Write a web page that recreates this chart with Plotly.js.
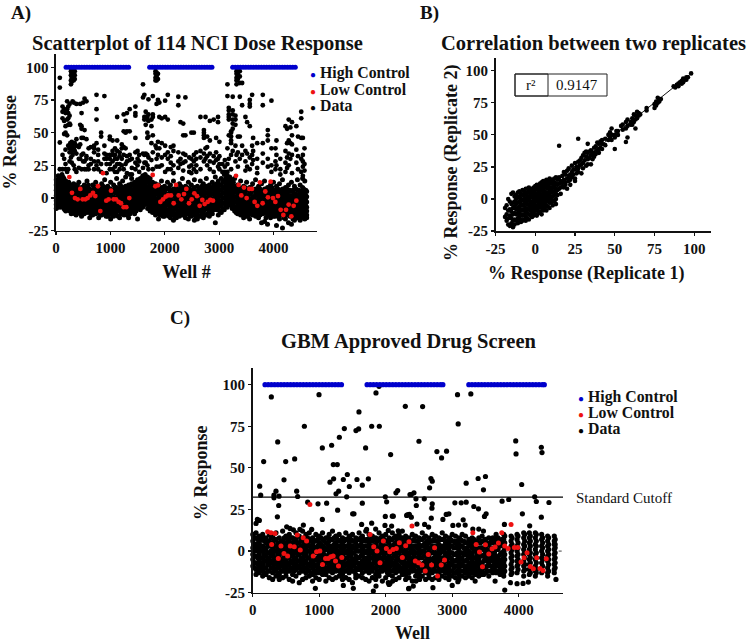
<!DOCTYPE html>
<html><head><meta charset="utf-8">
<script src="https://cdn.plot.ly/plotly-3.0.1.min.js"></script>
<style>html,body{margin:0;padding:0;background:#fff}#chart{width:752px;height:644px}</style>
</head><body><div id="chart"></div>
<script>
// Rows are [x, y1, y2, ...].
const highAWells=[185,233,281,329,377,425,473,521,569,617,665,713,761,809,857,905,953,1001,1049,1097,1145,1193,1241,1289,1336,1722,1770,1818,1866,1914,1962,2010,2058,2106,2154,2202,2250,2298,2346,2394,2442,2490,2538,2586,2634,2682,2730,2778,2826,2868,3249,3297,3345,3393,3441,3489,3537,3585,3633,3681,3729,3777,3825,3873,3921,3969,4017,4065,4113,4161,4209,4257,4305,4353,4401];
const highAValues=[100,100,100,100,100,100,100,100,100,100,100,100,100,100,100,100,100,100,100,100,100,100,100,100,100,100,100,100,100,100,100,100,100,100,100,100,100,100,100,100,100,100,100,100,100,100,100,100,100,100,100,100,100,100,100,100,100,100,100,100,100,100,100,100,100,100,100,100,100,100,100,100,100,100,100];
const lowA=[[245,16],[294,4],[349,0],[398,-1],[447,7],[490,-1],[539,-1],[582,0],[631,2],[680,4],[723,1.5],[772,9],[815,-10],[864,19],[925,-2],[968,-1],[1012,5.6],[1060,-1],[1103,-1],[1152,-3],[1195,-4],[1244,-7],[1293,-7],[1348,0],[1778,17.6],[1827,9],[1876,9.7],[1919,-3],[1968,-1],[2017,1],[2060,2],[2115,2],[2164,-4],[2207,10],[2256,2],[2305,-1],[2354,3],[2397,7],[2446,-4],[2495,-1],[2544,3.6],[2593,1.5],[2642,-6],[2691,-1.5],[2734,-4.6],[2789,-3],[2838,-1.5],[2887,-2],[3310,17],[3359,10],[3408,2],[3457,8],[3506,0],[3555,7],[3604,7],[3653,-3],[3702,-6],[3751,12],[3800,-4],[3849,5],[3898,0.5],[3947,12.5],[3991,0],[4034,-3],[4083,1.5],[4132,-9],[4181,-13],[4230,-9],[4279,-5],[4328,-14],[4371,-6],[4420,-2]];
const sparseA=[[70,92,84.5,42.5,22],[120,70,66,61,33,22],[150,68,59,49,30],[175,65,55,50,37,26,22],[205,74,68,60,48,20],[225,70,65,61,56,40,22],[250,72,63,57,38,35,28],[262,56,42],[275,97,94,90,87,39,31],[290,98,96,92,89,43,36,27],[305,97,93,91,74,40,33],[325,98,95,92,90,73,38,25],[345,97,94,91,42,36,22],[375,72,45,40,34,20],[420,39,30,23],[445,72,56,41,30],[470,65,55,53,46,33,22],[500,73,46,34,28],[525,76,52,28,22],[560,74,45,32,30,22],[600,38,25,22],[640,39,30,26],[700,40,38,35,28,22],[745,79,68,60,42,25],[775,37,33,28,22],[830,50,47,26,20],[890,78,40,34,30],[930,33,30,26,19],[990,47,45,33,30,26,22],[1040,44,36,33,28,22],[1085,38,33,30,24,20],[1125,62,44,36,30,26,20],[1170,35,32,26,22],[1210,41,38,30,25],[1245,64,51,39,33,22],[1280,59,50,38,26],[1305,65,51,32,28,19],[1355,68,51,33,29,18],[1395,30,23,18],[1460,70,65,63,46,35,27,22],[1500,36,30,25],[1530,33,28,20],
[1600,87,77,34,23],[1625,79,62,60,33,27],[1650,66,62,56,34,27],[1680,62,60,50,46,33,25],[1700,75.5,64,59,47,31,22],[1755,60,55,42,29],[1781,78,64,62,48,35,22],[1830,97,95,92,90,40],[1850,96,93,90,72,38,30,24],[1875,95,91,75,43,33],[1900,73,62,38,24],[1945,61,42,31,25],[2007,74.5,62,40,33,20],[2056,79,60,35,30,22],[2110,39,32,27,22],[2160,40,36,25,19],[2250,77.5,71,35,28,23],[2290,58,30,26],[2340,57,48,34,27,21],[2380,77,48,33,28],[2450,24,31,20],[2490,50,30,25,19],[2535,50,33,28,22],[2580,35,30,25,20],[2657,62,36,31,22],[2720,52,50,48,46,34,28],[2750,62,38,30],[2780,47,39,32,25],[2830,59,44,34,28,22],[2900,60,32,27,20],[2945,46,35,29],[2980,62,58,30,24],[3005,43,32,26,22],[3060,26,20],[3105,20,24,29],
[3153,87,78,38,26,20],[3178,69,67,64,62,60,48,30],[3220,51,50,47,44,42,33,22],[3250,77.5,67,64,60,57,53,36],[3300,63,60,56,40,28],[3320,97,95,92,90,87,33],[3345,96,94,91,47,35,24],[3380,97,93,88,77.5,47,30],[3423,88,71,40,33],[3484,62,36,28,21],[3515,58,34,24],[3564,75,72,70,55,31,22],[3607,79,40,33,26],[3625,46,36,29],[3700,42,30,23,19],[3803,79,71,42,34,27],[3895,52,48,44,30,24],[3962,74.5,38,25,20],[4036,38,28,22],[4054,44,33,25],[4125,30,22,18],[4220,55,36,27,20],[4250,53,42,31,23],[4280,60,44,34,25],[4310,54,42,30],[4340,58,48,41,33,19],[4420,55,37,27],[4450,47,32,22],[4510,66,61,46,30,20],[4540,46,33,28,24,17],[4570,38,26,21]];
const bandA=[[5,14,10,6,2,-2,-5,-8],[40,17,13,9,5,1,-3,-6],[75,16,11,7,3,-1,-4,-7],[110,18,14,10,6,2,-2,-6],[145,15,11,8,4,0,-4,-8],[180,13,9,5,1,-3,-7,-10],[235,12,9,5,2,-2,-5,-9],[280,10,6,3,-1,-5,-8,-12],[325,11,8,4,0,-3,-7,-10],[370,9,5,2,-2,-6,-9,-13],[420,12,7,3,-1,-4,-8,-11],[470,8,5,1,-3,-7,-10,-14],[520,10,6,3,-2,-5,-9,-12],[570,13,8,4,0,-4,-7,-11],[620,7,3,0,-4,-8,-11,-15],[675,10,6,2,-1,-5,-9,-13],[730,12,7,4,-1,-4,-8,-12],[785,9,5,1,-3,-7,-11,-15],[840,11,6,2,-2,-6,-10,-13],[895,14,8,4,0,-4,-8,-12],[950,9,6,2,-2,-6,-10,-14],[1005,12,7,3,-1,-5,-9,-16],[1060,10,6,1,-3,-7,-11,-14],[1115,15,8,4,0,-4,-8,-13],[1170,11,7,2,-2,-6,-10,-15],[1225,13,8,4,-1,-5,-8,-12],[1280,16,9,5,1,-3,-7,-11],[1335,10,6,2,-2,-6,-10,-15],[1390,15,11,6,2,-2,-6,-10],[1445,12,8,4,0,-4,-8,-12],[1500,14,10,6,2,-2,-6,-16],[1550,15,11,7,3,-1,-5,-9],[1595,17,13,9,5,1,-3,-7],[1640,18,14,10,6,2,-2,-5],[1685,16,12,8,4,0,-4,-8],[1730,15,11,7,3,-1,-5,-10],[1775,12,8,4,0,-4,-8,-11],[1830,11,7,3,-1,-5,-9,-13],[1885,10,5,1,-3,-7,-11,-16],[1940,13,8,4,-1,-5,-9,-13],[1995,9,5,1,-3,-7,-10,-14],[2050,12,7,3,-1,-5,-9,-13],[2105,10,5,0,-4,-8,-12,-15],[2160,13,7,3,-2,-6,-10,-17],[2215,8,4,0,-4,-8,-12,-15],[2270,11,6,2,-2,-6,-10,-14],[2325,15,7,3,-1,-5,-9,-13],[2380,9,5,1,-3,-7,-11,-15],[2435,12,6,2,-2,-6,-10,-16],[2490,10,5,1,-3,-7,-11,-14],[2545,14,8,3,-1,-5,-9,-17],[2600,9,5,0,-4,-8,-12,-16],[2655,13,7,3,-2,-6,-10,-14],[2710,11,6,2,-3,-7,-11,-15],[2765,15,9,4,0,-4,-8,-13],[2820,10,6,2,-2,-6,-10,-14],[2875,12,7,3,-1,-5,-9,-12],[2930,16,9,5,1,-3,-7,-19],[2985,13,8,4,0,-4,-8,-13],[3040,15,10,6,2,-2,-6,-11],[3095,18,13,8,4,0,-4,-9],[3150,17,13,9,5,1,-3,-7],[3195,16,13,10,6,2,-1,-5],[3240,14,10,6,2,-2,-6,-8],[3285,15,9,5,1,-3,-7,-10],[3340,10,7,3,-1,-5,-9,-12],[3395,13,6,2,-2,-6,-10,-13],[3450,9,5,1,-3,-7,-11,-15],[3505,12,6,2,-2,-6,-10,-14],[3560,8,3,-1,-5,-9,-12,-16],[3615,11,6,1,-3,-7,-11,-13],[3670,14,7,3,-2,-6,-10,-14],[3725,9,4,0,-4,-8,-12,-15],[3780,11,5,1,-3,-7,-11,-19],[3835,13,7,2,-2,-6,-10,-18],[3890,8,3,-1,-5,-9,-13,-20],[3945,10,5,1,-3,-7,-11,-15],[4000,12,6,2,-2,-6,-10,-14],[4055,9,4,-1,-5,-9,-12,-21],[4110,11,5,0,-4,-8,-12,-16],[4165,14,7,2,-3,-7,-11,-23],[4220,8,3,-1,-5,-9,-13,-16],[4275,10,5,1,-3,-7,-11,-19],[4330,12,5,0,-4,-8,-12,-20],[4385,9,3,-2,-6,-10,-14,-17],[4440,14,6,1,-3,-7,-11,-15],[4490,10,4,-1,-5,-9,-13,-17],[4535,15,8,3,-2,-6,-10,-14],[4575,13,6,1,-4,-8,-12,-16],[4610,5,1,-3,-7,-10,-13,-15]];
const bandA2=[[22,12,8,4,0,-3,-7],[58,15,11,5,1,-2,-5],[92,13,9,5,1,-3,-6],[128,16,12,8,2,-2,-5],[162,13,7,3,-1,-6,-9],[208,11,7,3,-1,-5,-8],[258,8,4,0,-3,-7,-10],[302,9,6,2,-2,-6,-9],[348,7,3,-1,-5,-8,-12],[395,10,7,0,-4,-7,-11],[445,6,3,-1,-5,-9,-12],[495,8,3,-1,-5,-8,-11],[545,8,4,1,-3,-7,-10],[595,10,6,2,-2,-6,-9],[648,5,1,-2,-6,-9,-13],[702,8,4,0,-3,-7,-11],[758,9,5,2,-3,-6,-10],[812,7,3,-1,-5,-9,-13],[868,9,4,0,-4,-8,-11],[922,6,2,-2,-6,-10,-14],[978,7,4,0,-4,-8,-12],[1032,5,1,-3,-7,-11,-13],[1088,8,4,-1,-5,-9,-12],[1142,6,2,-2,-6,-10,-14],[1198,9,5,0,-4,-8,-12],[1252,6,2,-3,-7,-10,-13],[1308,7,3,-1,-5,-9,-13],[1362,8,4,0,-4,-8,-12],[1418,10,6,2,-2,-6,-9],[1472,10,6,2,-2,-6,-10],[1525,12,8,4,0,-4,-8],[1572,13,9,5,1,-3,-7],[1618,15,11,7,3,-1,-4],[1662,16,12,8,4,0,-4],[1708,13,9,5,1,-2,-6],[1752,10,6,2,-2,-6,-9],[1802,9,5,1,-3,-7,-10],[1858,8,4,-1,-5,-9,-12],[1912,7,3,-1,-5,-9,-13],[1968,6,2,-3,-7,-11,-14],[2022,7,3,-1,-5,-9,-12],[2078,8,2,-2,-6,-10,-14],[2132,6,2,-2,-6,-10,-13],[2188,5,1,-4,-8,-12,-14],[2242,6,2,-2,-6,-10,-13],[2298,9,5,1,-3,-7,-11],[2352,7,3,-1,-5,-9,-13],[2408,8,4,0,-4,-8,-12],[2462,7,3,-1,-5,-9,-13],[2518,6,2,-2,-6,-10,-13],[2572,5,1,-3,-7,-11,-14],[2628,7,3,-2,-6,-10,-14],[2682,9,4,0,-4,-8,-12],[2738,7,3,-1,-5,-9,-13],[2792,8,4,0,-4,-8,-12],[2848,8,4,0,-3,-7,-11],[2902,10,7,3,-1,-5,-9],[2958,11,7,3,-1,-5,-9],[3012,10,6,2,-2,-6,-10],[3068,12,8,4,0,-4,-8],[3122,15,11,7,3,-1,-6],[3172,15,11,7,3,-1,-5],[3218,14,11,8,4,0,-3],[3262,12,8,4,0,-4,-7],[3312,8,5,1,-3,-7,-11],[3368,8,4,0,-4,-8,-11],[3422,7,3,-1,-5,-9,-12],[3478,8,4,-1,-5,-9,-13],[3532,6,1,-3,-7,-11,-14],[3588,8,4,-1,-5,-9,-12],[3642,6,1,-1,-5,-8,-12],[3698,6,2,-2,-6,-10,-13],[3752,7,3,-1,-5,-9,-13],[3808,5,3,-1,-5,-9,-12],[3862,6,1,-3,-7,-11,-15],[3918,7,3,-1,-5,-9,-13],[3972,8,4,0,-4,-8,-12],[4028,6,2,-3,-7,-11,-14],[4082,7,2,-2,-6,-10,-14],[4138,6,3,-1,-5,-9,-13],[4192,5,1,-3,-7,-11,-15],[4248,7,3,-1,-5,-9,-13],[4302,6,2,-2,-6,-10,-14],[4358,6,1,-4,-8,-12,-16],[4412,7,3,-1,-5,-9,-13],[4465,6,2,-3,-7,-11,-15],[4512,5,1,-4,-8,-12,-15],[4555,7,3,-1,-5,-9,-13],[4595,6,2,-2,-6,-11,-14]];
const scatterB=[[-19,-7,-14],[-18,-5,-12,-17],[-17,0,-9,-15,-20],[-16,-2,-8,-13,-21],[-15,4,-4,-10,-15,-19],[-14,5,-3,-7,-12,-17,-22],[-13,2,-2,-6,-11,-16,-20],[-12,3,0,-4,-8,-12,-17],[-11,5,1,-3,-7,-11,-15,-19],[-10,6,2,-2,-6,-10,-14,-18],[-9,4,0,-4,-8,-12,-16,-18],[-8,7,3,-1,-5,-9,-13,-17],[-7,6,3,0,-4,-8,-12,-16],[-6,8,4,0,-3,-7,-10,-14,-17],[-5,8,5,2,-1,-4,-8,-11,-15],[-4,9,6,2,-1,-5,-8,-12,-16],[-3,7,4,1,-3,-6,-9,-13],[-2,8,5,2,-2,-5,-8,-11,-14],[-1,9,6,3,0,-3,-6,-10,-13],[0,10,7,4,1,-2,-5,-8,-12],[1,11,8,4,1,-2,-6,-9,-13],[2,10,7,5,2,-1,-4,-7,-11],[3,12,9,6,3,0,-3,-6,-10],[4,13,10,7,3,0,-4,-7,-12],[5,14,11,8,4,1,-2,-5,-9],[6,13,10,6,3,0,-3,-7],[7,15,12,9,5,2,-1,-5,-9],[8,14,11,8,4,1,-2,-6],[9,16,13,9,6,3,0,-3,-7],[10,15,12,8,5,1,-3],[11,15,12,9,6,2,-1,-5],[12,16,13,10,6,3,-2],[13,17,12,8,4,0,-4],[14,15,11,7,3],[15,41.5,17,12,8],[16,14,9,4],[17,18,13,10],[18,21,15,9],[19,19,13,11],[20,22,16,8],[21,24,18,14],[22,19,15,11],[23,26,21,17],[24,23,19],[25,28,23,16,14],[26,25,20],[27,47,29,24,21],[28,30,26],[29,32,27,20],[30,34,28,24],[31,36,30],[32,37,33,26],[33,43,36,31,27],[34,37,32],[35,38,34,27],[36,36,31],[37,40,36,33],[38,41,35],[39,44,38],[40,43,39,36],[41,45,40],[42,46,43,39],[44,47,42],[46,50,46],[47,52,48],[48,55,50,46],[50,39,50,48],[51,53],[52,53,50],[54,57],[55,58,54],[57,44.5,60,55],[58,48,62,57],[60,60,58],[61,63,58],[62,66,60],[63,55,65,62],[64,68,63],[65,67,65],[66,66],[70,71,69],[75,74,71],[76,76,73],[77,79,75],[78,78,76],[79,78],[87,88],[88,87],[89,89],[90,90,88],[91,91],[92,92,90],[93,94,91],[94,93],[95,95,93],[96,95],[98,98]];
const fitBx=[-18,97];
const fitBy=[-17,97];
const highCWells=[185,233,281,329,377,425,473,521,569,617,665,713,761,809,857,905,953,1001,1049,1097,1145,1193,1241,1289,1335,1720,1768,1816,1864,1912,1960,2008,2056,2104,2152,2200,2248,2296,2344,2392,2440,2488,2536,2584,2632,2680,2728,2776,2824,2860,3250,3298,3346,3394,3442,3490,3538,3586,3634,3682,3730,3778,3826,3874,3922,3970,4018,4066,4114,4162,4210,4258,4306,4354,4385];
const highCValues=[100,100,100,100,100,100,100,100,100,100,100,100,100,100,100,100,100,100,100,100,100,100,100,100,100,100,100,100,100,100,100,100,100,100,100,100,100,100,100,100,100,100,100,100,100,100,100,100,100,100,100,100,100,100,100,100,100,100,100,100,100,100,100,100,100,100,100,100,100,100,100,100,100,100,100];
const lowC=[[225,11.6],[275,11],[285,4],[335,10.6],[385,-4.4],[425,3],[470,-1.4],[525,-3],[565,3],[625,2.6],[670,9.6],[715,0.6],[760,8],[810,6],[860,28],[910,-3],[960,-0.4],[1010,0],[1050,-8],[1095,-4.4],[1135,-4.4],[1175,-3.4],[1210,-3],[1245,-6],[1290,-9],[1340,-3.8],[1765,10],[1820,2.6],[1870,0],[1915,-7],[1965,6],[2010,1.6],[2060,-0.4],[2110,1],[2160,1.6],[2205,5],[2250,-3.8],[2300,3.2],[2350,5.6],[2395,15],[2445,-6],[2495,-7],[2545,-8.4],[2595,-12],[2640,-2],[2690,-8.4],[2735,2],[2780,-15],[2835,-8.4],[2885,-5.4],[3310,11],[3360,4],[3410,-0.6],[3455,-9.4],[3500,3.8],[3550,-1.8],[3600,1.4],[3645,2.4],[3695,4.8],[3745,11],[3790,3],[3840,1.6],[3885,16],[3935,2.2],[3985,2.2],[4035,-6.6],[4080,-4],[4125,-1],[4175,-9.2],[4220,-10.6],[4270,-4],[4320,-10.4],[4365,-11.6],[4415,-4.6]];
const sparseC=[[280,92.6],[997,94],[1900,99],[1854,95],[2295,87],[1598,83.6],[777,75],[1378,73.6],[1553,72.4],[1593,73.4],[1789,75],[1904,75],[1303,68.4],[376,65.6],[1047,62],[1187,63.6],[1698,62],[2074,58],[165,53.8],[496,53.8],[631,55.4],[1212,52],[1272,52],[471,42.8],[1423,46],[1363,43],[1568,43],[1739,43.4],[1648,39.6],[1453,38.8],[1162,41.4],[1217,43.4],[1293,36],[1253,34.4],[105,39],[120,33.6],[350,36],[320,33.6],[320,32],[396,33],[661,36],[676,32.8],[1413,32.6],[2154,35],[2180,36.4],[1994,32.6],[2014,29.6],[2365,34],[391,27.4],[827,29.4],[982,28.4],[1112,28.8],[1648,28.8],[1277,24.6],[1503,22.4],[1523,22.4],[371,20.6],[1047,19],[1994,20.8],[2099,21],[2114,21],[2315,21.4],[2355,22],[70,19],[100,18.4],[50,16.6],[1638,16],[1789,16.8],[1989,15.4],[2089,15],[1849,13.2],[2039,12.4],[2189,12.2],[1713,13],[762,15.6],[511,14.6],[561,13.6],[612,12.8],[710,13],[887,13],[942,-22.4],[1363,-20.6],[1513,-22.4],[1814,-24],[1854,-21],[2039,-19],[2064,-19.4],[2104,-18],[2350,-22.4],[2555,86.8],[3080,94],[3280,94.4],[3090,76.4],[2500,66],[3955,66.2],[3960,58.4],[4340,62.4],[4350,59.2],[2770,59.8],[2915,60],[2840,56],[2680,43.6],[2700,42],[2660,38],[3210,40.8],[3390,43.6],[3500,44.8],[3470,36.8],[4045,40],[2385,34],[2425,35],[2455,31.4],[2580,31.4],[2700,28.4],[2460,27.4],[2695,25.8],[3040,29],[3135,29],[3210,29.4],[3325,26.8],[3395,25.4],[3750,30],[3850,31],[4240,32.6],[4265,29.8],[4455,29.2],[2325,21.8],[2350,21.8],[2385,20.4],[2685,19.8],[2910,22],[2950,22.4],[2860,19],[3165,18.8],[3485,20.8],[3510,22.4],[4055,22.4],[4340,20.4],[3010,15.4],[3095,15.6],[3195,15.6],[2470,16.2],[2585,16],[2645,14.4],[3785,16],[4165,15.2],[3310,13.2],[3400,13.2],[3470,12],[2345,-22.6],[2415,-21],[2710,-22],[3000,-20.6],[3790,-23.4],[4560,-17],[3875,-19],[3975,-19.6],[4065,-19.4],[4145,-18.6],[3645,-18],[3085,-18.4],[3345,-18],[2455,-18],[2510,-17]];
const bandC=[[2,10,6,2,-2,-5,-9],[50,11,8,4,1,-3,-7,-11,-14],[100,9,5,2,-2,-6,-9,-13],[150,10,7,3,0,-4,-8,-12,-15],[200,8,5,1,-3,-6,-10,-14],[250,10,6,3,-1,-5,-8,-12,-16],[300,9,5,2,-2,-6,-10,-13,-17],[350,11,7,3,0,-4,-7,-11,-15],[400,8,4,1,-3,-7,-10,-14,-17],[450,12,6,2,-1,-5,-9,-12,-16],[500,9,5,2,-2,-6,-9,-13,-15],[550,10,6,3,-1,-4,-8,-12,-17],[600,8,5,1,-3,-7,-11,-14,-18],[650,11,7,3,0,-4,-8,-11,-15],[700,9,5,2,-2,-6,-9,-13,-19],[750,12,6,3,-1,-5,-8,-12,-17],[800,10,6,2,-2,-6,-10,-13,-16],[850,11,7,3,0,-4,-8,-12,-15],[900,8,4,1,-3,-7,-10,-14,-18],[950,10,6,2,-1,-5,-9,-13,-16],[1000,9,5,2,-2,-6,-10,-13,-17],[1050,11,7,3,0,-4,-7,-11,-14],[1100,8,5,1,-3,-6,-10,-14,-18],[1150,10,6,3,-1,-5,-9,-12,-16],[1200,12,7,2,-2,-6,-9,-13,-17],[1250,9,5,2,-2,-5,-9,-12,-16],[1300,10,6,3,-1,-5,-8,-12,-15],[1350,8,4,1,-3,-7,-11,-14,-17],[1400,11,7,3,-1,-4,-8,-12,-16],[1450,9,5,2,-2,-6,-9,-13,-17],[1500,10,6,3,-1,-5,-9,-12,-19],[1550,8,5,1,-3,-6,-10,-14,-16],[1600,11,7,3,0,-4,-8,-11,-15],[1650,9,6,2,-2,-6,-9,-13,-16],[1700,12,6,3,-1,-5,-8,-12,-17],[1750,10,5,2,-2,-6,-10,-13,-18],[1800,9,6,3,-1,-4,-8,-12,-16],[1850,8,4,1,-3,-7,-10,-14,-17],[1900,11,7,2,-2,-5,-9,-13,-15],[1950,9,5,2,-1,-5,-9,-12,-18],[2000,10,6,3,-1,-4,-8,-11,-16],[2050,8,5,1,-3,-7,-11,-14,-20],[2100,11,7,3,0,-4,-8,-12,-15],[2150,9,5,2,-2,-6,-9,-13,-17],[2200,10,6,3,-1,-5,-9,-12,-16],[2250,12,8,4,0,-4,-7,-11,-14],[2300,9,5,1,-3,-7,-10,-14,-17],[2350,8,5,2,-2,-6,-9,-13,-16],[2400,10,6,2,-1,-5,-9,-12,-18],[2450,9,6,3,-1,-4,-8,-12,-15],[2500,8,4,1,-3,-7,-11,-14,-16],[2550,11,7,3,0,-4,-8,-11,-15],[2600,9,5,2,-2,-6,-9,-13,-17],[2650,8,5,1,-3,-6,-10,-14,-16],[2700,10,6,3,-1,-5,-9,-13,-17],[2750,9,6,2,-2,-5,-9,-12,-16],[2800,8,4,1,-3,-7,-10,-14,-17],[2850,11,7,3,0,-4,-8,-11,-15],[2900,9,5,2,-2,-6,-10,-13,-16],[2950,8,5,1,-3,-7,-10,-14,-17],[3000,10,6,3,-1,-5,-8,-12,-15],[3050,9,5,2,-2,-6,-9,-13,-16],[3100,8,4,1,-3,-7,-11,-14,-17],[3150,10,6,3,-1,-4,-8,-12,-15],[3200,9,5,1,-2,-6,-10,-13,-16],[3250,7,4,0,-3,-7,-10,-14,-15],[3300,8,5,2,-2,-6,-9,-13,-16],[3350,6,3,0,-4,-7,-11,-14],[3400,8,5,1,-2,-5,-9,-12,-15],[3450,9,6,2,-3,-8,-12,-14],[3500,7,3,-1,-5,-10,-13],[3550,8,4,0,-4,-7,-12,-15],[3610,8,5,1,-3,-6,-10,-13],[3660,10,7,4,1,-3,-6,-9,-13],[3720,6,3,-2,-6,-10,-14],[3775,10,7,3,0,-3,-7,-10,-13,-15],[3885,9,6,3,-1,-4,-8,-11,-14],[3975,10,7,3,0,-3,-6,-9,-13],[4075,11,8,4,1,-2,-6,-9,-12,-15],[4160,11,8,5,1,-2,-5,-8,-11,-14],[4250,11,8,4,1,-2,-5,-9,-12,-15],[4345,10,7,3,0,-4,-7,-10,-13],[4435,9,6,3,0,-3,-6,-10,-13,-15],[4535,9,6,4,1,-2,-5,-8,-11,-13]];
const bandC2=[[25,8,4,0,-3,-7,-10],[75,7,3,0,-4,-8,-11],[125,7,3,0,-4,-7,-11],[175,6,2,-2,-6,-10,-13],[225,6,3,-1,-4,-8,-12],[275,8,4,0,-3,-7,-10],[325,7,3,0,-4,-8,-12],[375,5,1,-2,-6,-9,-13],[425,6,2,-1,-5,-8,-12],[475,8,4,0,-3,-7,-11],[525,7,3,0,-4,-7,-11],[575,8,4,1,-2,-6,-10],[625,6,3,-1,-5,-9,-12],[675,9,5,1,-2,-6,-10],[725,7,3,0,-4,-7,-11],[775,8,4,1,-3,-7,-10],[825,8,4,0,-4,-8,-11],[875,6,2,-2,-6,-9,-13],[925,6,2,-1,-5,-8,-12],[975,7,3,0,-4,-8,-11],[1025,8,4,0,-3,-7,-11],[1075,6,2,-2,-5,-9,-12],[1125,8,4,1,-3,-7,-11],[1175,7,3,0,-4,-8,-11],[1225,8,4,0,-3,-7,-11],[1275,7,3,0,-3,-7,-10],[1325,6,2,-1,-5,-9,-13],[1375,6,2,-1,-5,-9,-12],[1425,7,3,0,-4,-7,-11],[1475,7,3,1,-3,-7,-11],[1525,6,2,-1,-5,-8,-12],[1575,7,3,0,-4,-7,-11],[1625,8,4,0,-3,-7,-11],[1675,7,3,0,-4,-7,-10],[1725,7,3,0,-4,-8,-11],[1775,7,3,0,-4,-8,-11],[1825,7,3,0,-3,-6,-10],[1875,6,2,-1,-5,-9,-12],[1925,8,4,0,-4,-7,-11],[1975,7,3,0,-3,-7,-11],[2025,6,2,-1,-5,-9,-13],[2075,7,3,-1,-5,-9,-12],[2125,8,4,0,-3,-7,-11],[2175,7,3,0,-4,-8,-11],[2225,8,5,1,-3,-6,-10],[2275,7,3,-1,-5,-9,-12],[2325,7,3,-1,-4,-8,-12],[2375,6,3,0,-4,-7,-11],[2425,7,3,0,-3,-7,-11],[2475,6,2,-1,-5,-9,-13],[2525,7,3,-1,-4,-8,-12],[2575,8,4,0,-3,-7,-11],[2625,6,3,-1,-4,-8,-12],[2675,6,2,-1,-5,-9,-12],[2725,7,3,0,-4,-7,-11],[2775,6,3,-1,-5,-8,-12],[2825,7,2,-1,-5,-9,-12],[2875,7,3,0,-4,-8,-12],[2925,6,3,-1,-5,-9,-12],[2975,7,3,-1,-4,-8,-12],[3025,6,2,-2,-6,-10,-13],[3075,6,3,-1,-5,-9,-12],[3125,7,3,-1,-5,-9,-12],[3175,6,2,-2,-6,-9,-12],[3225,5,2,-2,-5,-9,-12],[3275,6,3,-1,-4,-8,-11],[3325,7,3,0,-4,-8,-11],[3375,6,2,-2,-6,-9,-13],[3425,5,2,-2,-7,-10,-13],[3475,6,1,-3,-6,-10,-14],[3525,5,1,-2,-6,-9,-12],[3585,6,2,-2,-5,-9,-12],[3635,7,2,-1,-5,-8,-11],[3690,8,4,1,-4,-8,-12],[3750,7,4,-1,-5,-8,-12],[3790,9,5,2,-2,-5,-9,-12],[3900,8,4,1,-3,-6,-10,-13],[3990,9,5,2,-2,-5,-8,-11],[4090,10,6,3,-1,-4,-8,-11],[4175,9,6,3,-1,-4,-7,-10,-13],[4265,10,6,3,-1,-4,-7,-11,-13],[4360,8,5,2,-2,-5,-9,-12],[4450,8,4,1,-2,-5,-8,-12],[4548,7,4,2,-1,-4,-7,-10]];
const cutoffX=[0,4680];
const cutoffY=[32.4,32.4];
const zeroX=[0,4680];
const zeroY=[0,0];

function expand(rows){const x=[],y=[];rows.forEach(r=>{r.slice(1).forEach(v=>{x.push(r[0]);y.push(v);});});return {x,y};}
const serif='"Liberation Serif","Times New Roman",serif';
const W=752,H=644;
const tickY=[-25,0,25,50,75,100];
const tickYText=['-25','0','25','50','75','100'];
const wellTicks=[0,1000,2000,3000,4000];
const tf={family:serif,size:15,color:'#111',weight:700};
const titleFont={family:serif,size:18,color:'#111',weight:700};
function axis(pxA,pxB,range,vals,txt,title,standoff,anchor,vert){
  const dom=vert?[1-pxB/H,1-pxA/H]:[pxA/W,pxB/W];
  const a={domain:dom,range:range,anchor:anchor,tickmode:'array',tickvals:vals,ticktext:txt,showgrid:false,zeroline:false,
    showline:true,linecolor:'#111',linewidth:1.6,ticks:'outside',ticklen:3,tickwidth:1.2,tickcolor:'#111',tickfont:tf};
  if(title) a.title={text:title,standoff:standoff,font:titleFont};
  return a;
}
function pts(d,ax,ay,color,size,name){return {type:'scatter',mode:'markers',x:d.x,y:d.y,xaxis:ax,yaxis:ay,name:name,
  marker:{color:color,size:size,line:{width:0}},cliponaxis:false,showlegend:false,hoverinfo:'skip'};}
const BLUE='#0000cc',RED='#ee1111',BLACK='#000';
const traces=[
  pts(expand(bandA),'x','y',BLACK,5,'Data'),
  pts(expand(bandA2),'x','y',BLACK,5,'Data'),
  pts(expand(sparseA),'x','y',BLACK,4.8,'Data'),
  pts(expand(lowA),'x','y',RED,4.8,'Low Control'),
  pts({x:highAWells,y:highAValues},'x','y',BLUE,5,'High Control'),
  {type:'scatter',mode:'lines',x:fitBx,y:fitBy,xaxis:'x2',yaxis:'y2',line:{color:'#111',width:1},showlegend:false,hoverinfo:'skip'},
  pts(expand(scatterB),'x2','y2',BLACK,4.6,'Replicates'),
  {type:'scatter',mode:'lines',x:zeroX,y:zeroY,xaxis:'x3',yaxis:'y3',line:{color:'#444',width:1,dash:'dot'},cliponaxis:false,showlegend:false,hoverinfo:'skip'},
  pts(expand(bandC),'x3','y3',BLACK,5.2,'Data'),
  pts(expand(bandC2),'x3','y3',BLACK,5.2,'Data'),
  pts(expand(sparseC),'x3','y3',BLACK,5.2,'Data'),
  {type:'scatter',mode:'lines',x:cutoffX,y:cutoffY,xaxis:'x3',yaxis:'y3',line:{color:'#000',width:1.2},cliponaxis:false,showlegend:false,hoverinfo:'skip'},
  pts(expand(lowC),'x3','y3',RED,5,'Low Control'),
  pts({x:highCWells,y:highCValues},'x3','y3',BLUE,5.2,'High Control')
];
function note(text,px,py,size,bold,xanchor,extra){
  return Object.assign({xref:'paper',yref:'paper',x:px/W,y:1-py/H,text:text,showarrow:false,xanchor:xanchor||'left',yanchor:'middle',
    font:{family:serif,size:size,color:'#111',weight:bold?700:400}},extra||{});
}
const dot=c=>'<span style="color:'+c+';font-size:10px">●</span> ';
const anns=[
  note('A)',9,13,19,true),note('B)',418,13,19,true),note('C)',168,318,19,true),
  note('Scatterplot of 114 NCI Dose Response',198,43,20.5,true,'center'),
  note('Correlation between two replicates',593,43,20.5,true,'center'),
  note('GBM Approved Drug Screen',409,342,20.5,true,'center'),
  note(dot(BLUE)+'High Control',308,73,15.8,true),note(dot(RED)+'Low Control',308,89,15.8,true),note(dot(BLACK)+'Data',308,105,15.8,true),
  note(dot(BLUE)+'High Control',576,397,15.8,true),note(dot(RED)+'Low Control',576,412,15.8,true),note(dot(BLACK)+'Data',576,428,15.8,true),
  note('Standard Cutoff',574,497.5,15,false),
  note('r²',531,85,15,false,'center'),note('0.9147',577,85,15,false,'center'),
  note('% Response (Replicate 1)',586,273,18,true,'center'),
  note('% Response (Replicate 2)',452,163,18,true,'center',{textangle:-90}),
  note('Well',412,633,18,true,'center'),
  note('% Response',201,472,18,true,'center',{textangle:-90})
];
const box=(x0,x1,y0,y1)=>({type:'rect',xref:'paper',yref:'paper',x0:x0/W,x1:x1/W,y0:1-y1/H,y1:1-y0/H,line:{color:'#222',width:1},fillcolor:'rgba(0,0,0,0)'});
const layout={width:W,height:H,margin:{l:0,r:0,t:0,b:0},paper_bgcolor:'#fff',plot_bgcolor:'#fff',showlegend:false,
  font:{family:serif,color:'#111'},
  xaxis:axis(56,317,[0,4800],wellTicks,['0','1000','2000','3000','4000'],'Well #',10,'y',false),
  yaxis:axis(54,230.7,[-25,110.2],tickY,tickYText,'% Response',8,'x',true),
  xaxis2:axis(495.5,711,[-25,110.5],tickY,tickYText,null,0,'y2',false),
  yaxis2:axis(58,231,[-25,110],tickY,tickYText,null,0,'x2',true),
  xaxis3:axis(252.7,563,[0,4666],wellTicks,['0','1000','2000','3000','4000'],null,0,'y3',false),
  yaxis3:axis(368,592.7,[-25,110],tickY,tickYText,null,0,'x3',true),
  annotations:anns,
  shapes:[box(515,607,74,96),box(515,548,74,96)]
};
Plotly.newPlot('chart',traces,layout,{displayModeBar:false,staticPlot:true});
</script></body></html>
